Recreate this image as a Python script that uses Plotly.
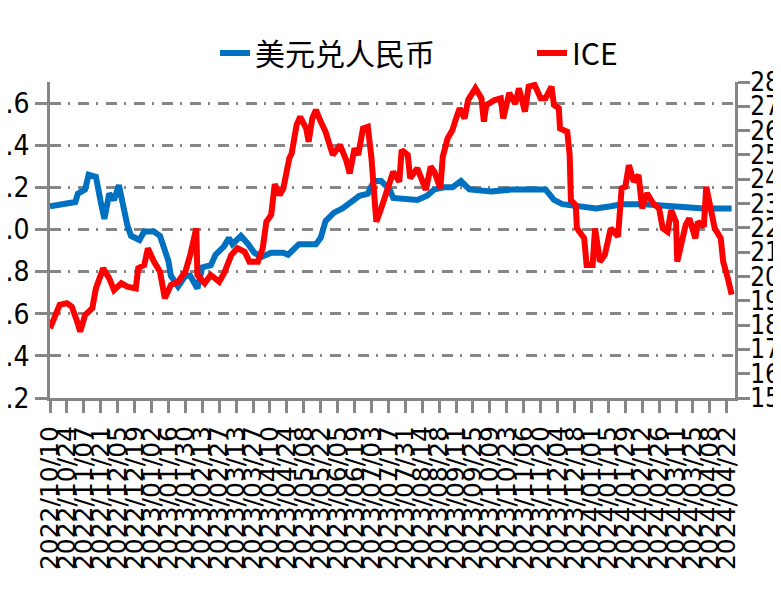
import plotly.graph_objects as go

series_names = ["美元兑人民币", "ICE"]

usd_dates = ["2022-10-10", "2022-10-21", "2022-10-31", "2022-11-02", "2022-11-08", "2022-11-11", "2022-11-17",
             "2022-11-21", "2022-11-24", "2022-11-28", "2022-12-02", "2022-12-06", "2022-12-09", "2022-12-13",
             "2022-12-16", "2022-12-23", "2022-12-27", "2023-01-04", "2023-01-09", "2023-01-13", "2023-01-16",
             "2023-01-18", "2023-01-24", "2023-01-30", "2023-02-03", "2023-02-09", "2023-02-13", "2023-02-20",
             "2023-02-24", "2023-03-03", "2023-03-07", "2023-03-10", "2023-03-17", "2023-03-23", "2023-03-28",
             "2023-04-03", "2023-04-11", "2023-04-21", "2023-04-25", "2023-05-04", "2023-05-11", "2023-05-18",
             "2023-05-22", "2023-05-26", "2023-06-02", "2023-06-09", "2023-06-16", "2023-06-23", "2023-06-30",
             "2023-07-05", "2023-07-11", "2023-07-18", "2023-07-21", "2023-08-02", "2023-08-10", "2023-08-18",
             "2023-08-24", "2023-09-01", "2023-09-08", "2023-09-15", "2023-09-22", "2023-10-10", "2023-10-27",
             "2023-11-24", "2023-12-01", "2023-12-08", "2023-12-26", "2024-01-05", "2024-01-17", "2024-01-26",
             "2024-02-14", "2024-03-07", "2024-04-03", "2024-04-26"]
usd_values = [7.11, 7.12, 7.13, 7.17, 7.19, 7.26, 7.25,
              7.13, 7.05, 7.17, 7.14, 7.21, 7.12, 7.02,
              6.97, 6.95, 6.99, 6.99, 6.97, 6.91, 6.85,
              6.78, 6.73, 6.78, 6.78, 6.72, 6.82, 6.83,
              6.88, 6.92, 6.96, 6.93, 6.97, 6.93, 6.89,
              6.87, 6.89, 6.89, 6.88, 6.93, 6.93, 6.93,
              6.96, 7.04, 7.08, 7.10, 7.13, 7.16, 7.17,
              7.23, 7.23, 7.19, 7.15, 7.14, 7.14, 7.16,
              7.19, 7.20, 7.20, 7.23, 7.19, 7.18, 7.19,
              7.19, 7.14, 7.12, 7.11, 7.10, 7.11, 7.12,
              7.12, 7.11, 7.10, 7.10]

ice_dates = ["2022-10-10", "2022-10-14", "2022-10-18", "2022-10-24", "2022-10-28", "2022-11-01", "2022-11-04",
             "2022-11-08", "2022-11-14", "2022-11-17", "2022-11-23", "2022-11-28", "2022-12-02", "2022-12-08",
             "2022-12-13", "2022-12-20", "2022-12-22", "2022-12-27", "2022-12-30", "2023-01-04", "2023-01-09",
             "2023-01-13", "2023-01-18", "2023-01-24", "2023-01-30", "2023-02-03", "2023-02-08", "2023-02-09",
             "2023-02-15", "2023-02-20", "2023-02-27", "2023-03-03", "2023-03-09", "2023-03-14", "2023-03-20",
             "2023-03-24", "2023-03-31", "2023-04-04", "2023-04-07", "2023-04-11", "2023-04-14", "2023-04-18",
             "2023-04-21", "2023-04-26", "2023-04-28", "2023-05-02", "2023-05-05", "2023-05-10", "2023-05-12",
             "2023-05-15", "2023-05-18", "2023-05-22", "2023-05-26", "2023-06-01", "2023-06-07", "2023-06-12",
             "2023-06-15", "2023-06-19", "2023-06-22", "2023-06-26", "2023-06-30", "2023-07-03", "2023-07-05",
             "2023-07-07", "2023-07-11", "2023-07-17", "2023-07-21", "2023-07-26", "2023-07-28", "2023-08-02",
             "2023-08-04", "2023-08-10", "2023-08-14", "2023-08-17", "2023-08-21", "2023-08-24", "2023-08-29",
             "2023-08-31", "2023-09-04", "2023-09-08", "2023-09-11", "2023-09-14", "2023-09-18", "2023-09-21",
             "2023-09-27", "2023-10-02", "2023-10-04", "2023-10-06", "2023-10-13", "2023-10-18", "2023-10-20",
             "2023-10-25", "2023-10-30", "2023-11-02", "2023-11-07", "2023-11-10", "2023-11-15", "2023-11-20",
             "2023-11-24", "2023-11-29", "2023-12-01", "2023-12-05", "2023-12-06", "2023-12-12", "2023-12-14",
             "2023-12-15", "2023-12-19", "2023-12-20", "2023-12-26", "2023-12-28", "2024-01-02", "2024-01-04",
             "2024-01-08", "2024-01-12", "2024-01-17", "2024-01-23", "2024-01-26", "2024-01-29", "2024-02-01",
             "2024-02-05", "2024-02-09", "2024-02-12", "2024-02-14", "2024-02-16", "2024-02-21", "2024-02-26",
             "2024-02-29", "2024-03-04", "2024-03-07", "2024-03-11", "2024-03-12", "2024-03-15", "2024-03-19",
             "2024-03-22", "2024-03-27", "2024-03-29", "2024-04-03", "2024-04-05", "2024-04-09", "2024-04-12",
             "2024-04-17", "2024-04-19", "2024-04-23", "2024-04-26"]
ice_values = [17.87, 18.34, 18.83, 18.90, 18.76, 18.21, 17.73,
              18.41, 18.69, 19.51, 20.34, 19.92, 19.44, 19.72,
              19.58, 19.51, 20.34, 20.47, 21.16, 20.61, 20.20,
              19.10, 19.65, 19.78, 20.20, 20.88, 21.98, 20.06,
              19.72, 20.06, 19.78, 20.13, 20.88, 21.16, 21.02,
              20.61, 20.61, 21.16, 22.25, 22.53, 23.80, 23.35,
              23.60, 24.86, 25.07, 26.23, 26.57, 26.09, 25.54,
              26.50, 26.85, 26.37, 25.95, 25.00, 25.41, 24.79,
              24.24, 25.27, 25.00, 26.09, 26.16, 24.86, 23.49,
              22.25, 22.80, 23.63, 24.31, 23.90, 25.20, 25.00,
              24.04, 24.45, 23.90, 23.56, 24.52, 24.31, 23.63,
              24.93, 25.68, 26.02, 26.50, 26.92, 26.50, 27.26,
              27.74, 27.33, 26.37, 27.05, 27.26, 27.33, 26.50,
              27.55, 27.10, 27.74, 26.78, 27.81, 27.88, 27.33,
              27.33, 27.81, 27.05, 26.92, 26.09, 25.95, 25.00,
              23.14, 22.94, 21.98, 21.57, 20.47, 20.47, 21.98,
              20.61, 20.88, 21.98, 21.64, 23.63, 23.69, 24.58,
              23.90, 24.17, 22.80, 23.14, 23.42, 23.01, 22.80,
              21.98, 21.84, 22.73, 22.25, 20.61, 21.29, 22.12,
              22.39, 21.57, 22.25, 22.05, 23.69, 22.66, 21.98,
              21.57, 20.61, 19.90, 19.25]

tick_dates = ["2022-10-10", "2022-10-24", "2022-11-07", "2022-11-21", "2022-12-05", "2022-12-19",
              "2023-01-02", "2023-01-16", "2023-01-30", "2023-02-13", "2023-02-27", "2023-03-13",
              "2023-03-27", "2023-04-10", "2023-04-24", "2023-05-08", "2023-05-22", "2023-06-05",
              "2023-06-19", "2023-07-03", "2023-07-17", "2023-07-31", "2023-08-14", "2023-08-28",
              "2023-09-11", "2023-09-25", "2023-10-09", "2023-10-23", "2023-11-06", "2023-11-20",
              "2023-12-04", "2023-12-18", "2024-01-01", "2024-01-15", "2024-01-29", "2024-02-12",
              "2024-02-26", "2024-03-11", "2024-03-25", "2024-04-08", "2024-04-22"]
tick_labels = [d.replace("-", "/") for d in tick_dates]

left_ticks = [6.2, 6.4, 6.6, 6.8, 7.0, 7.2, 7.4, 7.6]
left_labels = ["6.2", "6.4", "6.6", "6.8", "7.0", "7.2", "7.4", "7.6"]
right_ticks = [15, 16, 17, 18, 19, 20, 21, 22, 23, 24, 25, 26, 27, 28]

AX = "#868686"
NARROW = "Liberation Sans Narrow, DejaVu Sans Condensed, Arial Narrow, Liberation Sans, sans-serif"

fig = go.Figure()
fig.add_trace(go.Scatter(x=usd_dates, y=usd_values, name=series_names[0], mode="lines",
                         line=dict(color="#0070C0", width=6), yaxis="y"))
fig.add_trace(go.Scatter(x=ice_dates, y=ice_values, name=series_names[1], mode="lines",
                         line=dict(color="#FF0000", width=6), yaxis="y2"))

fig.update_layout(
    width=773, height=586,
    margin=dict(l=42, r=46, t=74, b=196, pad=0, autoexpand=False),
    paper_bgcolor="white", plot_bgcolor="white",
    showlegend=True,
    legend=dict(orientation="h", x=0.2409, xanchor="left", y=0.9232, yref="container", yanchor="middle",
                font=dict(family="Noto Sans CJK SC", size=30, color="black"),
                entrywidth=272, entrywidthmode="pixels", itemwidth=30,
                bgcolor="rgba(0,0,0,0)", borderwidth=0),
    xaxis=dict(type="date", range=["2022-10-10", "2024-04-28 19:00"], automargin=False,
               tickmode="array", tickvals=tick_dates, ticktext=tick_labels, tickangle=-90,
               ticks="outside", ticklen=12, tickwidth=3, tickcolor=AX, ticklabelstandoff=3,
               showline=True, linecolor=AX, linewidth=3, showgrid=False, zeroline=False,
               tickfont=dict(family="DejaVu Sans", size=25, color="black")),
    yaxis=dict(range=[6.2, 7.7], automargin=False, tickmode="array", tickvals=left_ticks, ticktext=left_labels,
               ticks="outside", ticklen=12, tickwidth=3, tickcolor=AX,
               showline=True, linecolor=AX, linewidth=3,
               showgrid=True, gridcolor=AX, gridwidth=3, griddash="11px,7px,2px,8px",
               zeroline=False, tickfont=dict(family=NARROW, size=28, color="black")),
    yaxis2=dict(overlaying="y", side="right", range=[15, 28], automargin=False,
                tickmode="array", tickvals=right_ticks, ticklabelstandoff=-5,
                ticks="outside", ticklen=12, tickwidth=3, tickcolor=AX,
                showline=True, linecolor=AX, linewidth=3, showgrid=False, zeroline=False,
                tickfont=dict(family=NARROW, size=26, color="black")),
)

fig.write_html("out.html")
